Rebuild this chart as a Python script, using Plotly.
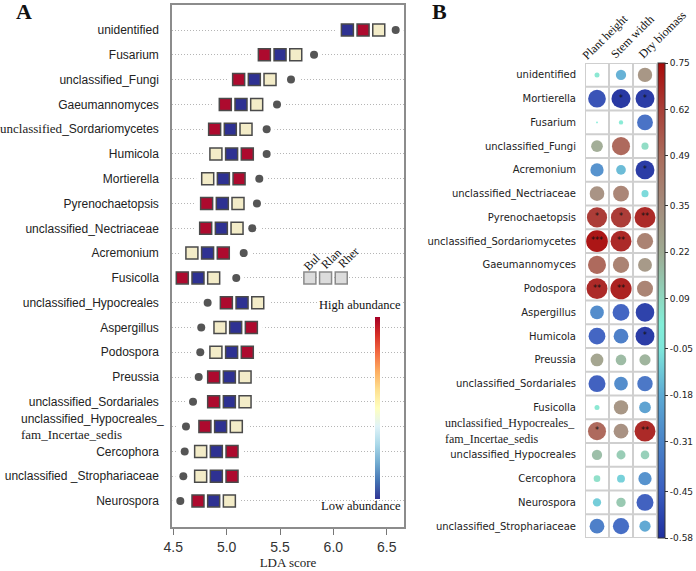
import numpy as np
import plotly.graph_objects as go

# ---------------- Panel A data (LEfSe) ----------------
taxa_A = ["unidentified", "Fusarium", "unclassified_Fungi", "Gaeumannomyces",
          "unclassified_Sordariomycetes", "Humicola", "Mortierella", "Pyrenochaetopsis",
          "unclassified_Nectriaceae", "Acremonium", "Fusicolla", "unclassified_Hypocreales",
          "Aspergillus", "Podospora", "Preussia", "unclassified_Sordariales",
          "unclassified_Hypocreales_fam_Incertae_sedis", "Cercophora",
          "unclassified_Strophariaceae", "Neurospora"]
lda_score = [6.584, 5.819, 5.603, 5.472, 5.375, 5.375, 5.306, 5.284, 5.240, 5.160,
             5.090, 4.822, 4.762, 4.753, 4.738, 4.685, 4.619, 4.607, 4.594, 4.566]
heat_start = [6.069, 5.291, 5.050, 4.925, 4.825, 4.837, 4.760, 4.750, 4.741, 4.612,
              4.522, 4.935, 4.875, 4.837, 4.816, 4.816, 4.734, 4.694, 4.694, 4.669]
groups = ["Bul", "Rlan", "Rher"]
# relative abundance rank per group: 1 = low, 2 = mid, 3 = high
abund_Bul = [1, 3, 3, 3, 3, 2, 2, 3, 3, 2, 3, 3, 2, 2, 3, 3, 3, 2, 2, 3]
abund_Rlan = [3, 1, 1, 1, 1, 1, 1, 1, 1, 1, 1, 1, 1, 1, 1, 1, 1, 1, 1, 1]
abund_Rher = [2, 2, 2, 2, 2, 3, 3, 2, 2, 3, 2, 2, 3, 3, 2, 2, 2, 3, 3, 2]
lda_ticks = [4.5, 5.0, 5.5, 6.0, 6.5]

# ---------------- Panel B data (correlations) ----------------
taxa_B = ["unidentified", "Mortierella", "Fusarium", "unclassified_Fungi", "Acremonium",
          "unclassified_Nectriaceae", "Pyrenochaetopsis", "unclassified_Sordariomycetes",
          "Gaeumannomyces", "Podospora", "Aspergillus", "Humicola", "Preussia",
          "unclassified_Sordariales", "Fusicolla",
          "unclassified_Hypocreales_fam_Incertae_sedis", "unclassified_Hypocreales",
          "Cercophora", "Neurospora", "unclassified_Strophariaceae"]
traits = ["Plant height", "Stem width", "Dry biomass"]
r_plant_height = [0.04, -0.50, 0.005, 0.22, -0.28, 0.34, 0.65, 0.75, 0.52, 0.70,
                  -0.30, -0.45, 0.26, -0.46, 0.04, 0.52, 0.17, 0.07, -0.11, -0.35]
r_stem_width = [-0.17, -0.58, 0.03, 0.52, -0.15, 0.40, 0.65, 0.70, 0.42, 0.72,
                -0.45, -0.35, 0.18, -0.30, 0.33, 0.35, 0.13, -0.10, 0.14, -0.42]
r_dry_biomass = [0.33, -0.57, -0.40, 0.08, -0.57, -0.08, 0.70, 0.42, 0.31, 0.41,
                 -0.55, -0.57, 0.20, -0.38, -0.22, 0.70, 0.12, -0.28, -0.46, -0.20]
sig_plant_height = ["", "", "", "", "", "", "*", "***", "", "**",
                    "", "", "", "", "", "*", "", "", "", ""]
sig_stem_width = ["", "*", "", "", "", "", "*", "**", "", "**",
                  "", "", "", "", "", "", "", "", "", ""]
sig_dry_biomass = ["", "*", "", "", "*", "", "**", "", "", "",
                   "", "*", "", "", "", "**", "", "", "", ""]
cb_B_ticks = [0.75, 0.62, 0.49, 0.35, 0.22, 0.09, -0.05, -0.18, -0.31, -0.45, -0.58]

# ---------------- geometry helpers ----------------
W, H = 696, 571
def fx(p):
    return p / W
def fy(p):
    return 1 - p / H

SANS = "Liberation Sans, Arial, sans-serif"
SERIF = "Liberation Serif, Times New Roman, serif"
DEJAVU = "DejaVu Sans, sans-serif"

box_w = 0.125     # width of one heat box (LDA units)
pitch = 0.147     # spacing between heat boxes (LDA units)

box_scale = [[0, "#2E3192"], [0.5, "#F3ECC8"], [1, "#AD0A2E"]]
corr_scale = [[0.0, "#1E2E9E"], [0.098, "#3A5EC0"], [0.203, "#4A84C8"], [0.301, "#5CAAD4"],
              [0.398, "#7EE6DA"], [0.45, "#82EED8"], [0.504, "#8ED8C0"], [0.602, "#9EAA92"],
              [0.699, "#A48C7C"], [0.804, "#AA6C5C"], [0.902, "#A84038"], [1.0, "#A80A0A"]]

fig = go.Figure()
rows_A = list(range(len(taxa_A)))

# white gaps in the dotted guide lines around boxes and dots
gx, gy = [], []
for i in rows_A:
    s = heat_start[i]
    e = s + 2 * pitch + box_w
    d = lda_score[i]
    gx += [min(s - 0.045, d - 0.075), max(e + 0.045, d + 0.075), None]
    gy += [i, i, None]
fig.add_trace(go.Scatter(x=gx, y=gy, mode="lines", line=dict(color="white", width=11),
                         hoverinfo="skip", showlegend=False, xaxis="x", yaxis="y"))

# heat boxes
for k, (g, lev) in enumerate(zip(groups, [abund_Bul, abund_Rlan, abund_Rher])):
    fig.add_trace(go.Scatter(
        x=[heat_start[i] + box_w / 2 + k * pitch for i in rows_A], y=rows_A,
        mode="markers", name=g, showlegend=False, xaxis="x", yaxis="y",
        marker=dict(symbol="square", size=12, color=lev, colorscale=box_scale,
                    cmin=1, cmax=3, line=dict(color="#4a4a4a", width=1.5))))

# LDA dots
fig.add_trace(go.Scatter(x=lda_score, y=rows_A, mode="markers", showlegend=False,
                         xaxis="x", yaxis="y",
                         marker=dict(symbol="circle", size=8, color="#555555")))

# group key squares
leg_x0 = 5.78
fig.add_trace(go.Scatter(x=[leg_x0 + k * pitch for k in range(3)], y=[10, 10, 10],
                         mode="markers", showlegend=False, xaxis="x", yaxis="y",
                         marker=dict(symbol="square", size=12, color="#DCDCDC",
                                     line=dict(color="#8a8a8a", width=1.5))))

# abundance colorbar (panel A)
fig.add_trace(go.Scatter(x=[None, None], y=[None, None], mode="markers", showlegend=False,
                         xaxis="x", yaxis="y",
                         marker=dict(color=[0, 1], cmin=0, cmax=1, colorscale="RdYlBu_r",
                                     showscale=True,
                                     colorbar=dict(thickness=5, lenmode="pixels", len=182,
                                                   x=fx(374.5), xanchor="left", xpad=0,
                                                   y=fy(408), yanchor="middle", ypad=0,
                                                   showticklabels=False, ticks="",
                                                   outlinewidth=0))))

# ---------------- Panel B traces ----------------
rows_B = list(range(len(taxa_B)))
cx, cy, cv, cs = [], [], [], []
for j, (vals, sig) in enumerate(zip([r_plant_height, r_stem_width, r_dry_biomass],
                                    [sig_plant_height, sig_stem_width, sig_dry_biomass])):
    for i in rows_B:
        cx.append(j); cy.append(i); cv.append(vals[i]); cs.append(sig[i])
sizes = [25 * np.sqrt(abs(v)) for v in cv]
fig.add_trace(go.Scatter(
    x=cx, y=cy, mode="markers", showlegend=False, xaxis="x2", yaxis="y2",
    marker=dict(size=sizes, color=cv, colorscale=corr_scale, cmin=-0.58, cmax=0.75,
                line=dict(width=0), opacity=0.95, showscale=True,
                colorbar=dict(thickness=7, lenmode="pixels", len=475, x=fx(658),
                              xanchor="left", xpad=0, y=fy(300.5), yanchor="middle", ypad=0,
                              tickvals=cb_B_ticks, ticktext=[f"{t:.2f}" for t in cb_B_ticks],
                              ticks="outside", ticklen=3, tickcolor="#333", tickwidth=1,
                              tickfont=dict(family=DEJAVU, size=9, color="#222"),
                              outlinewidth=1, outlinecolor="#333"))))
fig.add_trace(go.Scatter(x=cx, y=cy, mode="text", text=cs, showlegend=False,
                         xaxis="x2", yaxis="y2", textposition="middle center",
                         textfont=dict(size=8, color="#111", family=DEJAVU)))

# ---------------- labels ----------------
def label_A(t):
    if t == "unclassified_Sordariomycetes":
        return ("<span style='font-family:Liberation Serif;font-size:13px'>unclassified</span>"
                "_Sordariomycetes")
    if t == "unclassified_Strophariaceae":
        return "unclassified _Strophariaceae"
    if t == "unclassified_Hypocreales_fam_Incertae_sedis":
        return ""
    return t

def label_B(t):
    if t == "unclassified_Hypocreales_fam_Incertae_sedis":
        return ""
    return t

shapes = []
# white areas behind the key and the abundance colorbar
for (x0, x1, y0, y1) in [(300, 352, 244, 286), (352, 374, 246, 260), (363, 398, 292, 515)]:
    shapes.append(dict(type="rect", xref="paper", yref="paper", x0=fx(x0), x1=fx(x1),
                       y0=fy(y1), y1=fy(y0), fillcolor="white", line=dict(width=0),
                       layer="between"))
# cell grid panel B
for k in range(len(traits) + 1):
    shapes.append(dict(type="line", xref="x2", yref="y2", x0=k - 0.5, x1=k - 0.5,
                       y0=-0.5, y1=len(taxa_B) - 0.5, line=dict(color="#cfcfcf", width=2),
                       layer="below"))
for k in range(len(taxa_B) + 1):
    shapes.append(dict(type="line", xref="x2", yref="y2", x0=-0.5, x1=len(traits) - 0.5,
                       y0=k - 0.5, y1=k - 0.5, line=dict(color="#cfcfcf", width=2),
                       layer="below"))

def pa(text, px_, py_, font, **kw):
    d = dict(text=text, xref="paper", yref="paper", x=fx(px_), y=fy(py_),
             xanchor="center", yanchor="middle", showarrow=False, font=font)
    d.update(kw)
    return d

ann = []
ann.append(pa("<b>A</b>", 23.5, 12, dict(family=SERIF, size=22, color="#111")))
ann.append(pa("<b>B</b>", 439.5, 11.5, dict(family=SERIF, size=22, color="#111")))
i_fam = taxa_A.index("unclassified_Hypocreales_fam_Incertae_sedis")
ann.append(dict(text="unclassified_Hypocreales_<br><span style='font-family:Liberation Serif;"
                     "font-size:13px'>fam_Incertae_sedis</span>",
                xref="paper", yref="y", x=fx(166), y=i_fam, xanchor="right", yanchor="middle",
                align="left", showarrow=False, font=dict(family=SANS, size=12, color="#222")))
i_famB = taxa_B.index("unclassified_Hypocreales_fam_Incertae_sedis")
ann.append(dict(text="unclassified_Hypocreales_<br>fam_Incertae_sedis",
                xref="paper", yref="y2", x=fx(577), y=i_famB, xanchor="right",
                yanchor="middle", align="left", showarrow=False,
                font=dict(family=SERIF, size=12, color="#222")))
ann.append(pa("High abundance", 360, 305, dict(family=SERIF, size=12.5, color="#111"),
              bgcolor="white"))
ann.append(pa("Low abundance", 360.5, 505.5, dict(family=SERIF, size=12.5, color="#111")))
for g, (px_, py_) in zip(groups, [(312, 262), (331, 259), (348, 258)]):
    ann.append(pa(g, px_, py_, dict(family=SERIF, size=12, color="#111"), textangle=-45))
for t, (px_, py_) in zip(traits, [(605, 37), (632, 37), (662, 35)]):
    ann.append(pa(t, px_, py_, dict(family=SERIF, size=12, color="#111"), textangle=-45))

fig.update_layout(
    width=W, height=H, autosize=False, margin=dict(l=0, r=0, t=0, b=0, autoexpand=False),
    paper_bgcolor="white", plot_bgcolor="white", showlegend=False,
    shapes=shapes, annotations=ann,
    xaxis=dict(domain=[fx(172), fx(404)], range=[4.488, 6.662], tickvals=lda_ticks,
               ticktext=[f"{t:.1f}" for t in lda_ticks], ticks="outside", ticklen=6,
               tickcolor="#777", showgrid=False, zeroline=False, automargin=False,
               showline=True, mirror=True, linecolor="#8c8c8c", linewidth=1.5,
               tickfont=dict(family="Liberation Sans Narrow, Arial Narrow, sans-serif",
                             size=14, color="#333"),
               title=dict(text="LDA score", standoff=4,
                          font=dict(family=SERIF, size=13, color="#222"))),
    yaxis=dict(domain=[fy(527), fy(5)], range=[20.05, -1.01], tickvals=rows_A,
               ticktext=[label_A(t) for t in taxa_A], ticks="", ticklabelstandoff=9,
               showgrid=True, gridcolor="#b5b5b5", griddash="1px,2px", gridwidth=1,
               zeroline=False, showline=True, mirror=True, linecolor="#8c8c8c",
               linewidth=1.5, automargin=False,
               tickfont=dict(family=SANS, size=12, color="#222")),
    xaxis2=dict(domain=[fx(585), fx(657)], range=[-0.5, 2.5], showgrid=False,
                zeroline=False, showticklabels=False, ticks="", anchor="y2",
                automargin=False),
    yaxis2=dict(domain=[fy(538), fy(63)], range=[19.5, -0.5], tickvals=rows_B,
                ticktext=[label_B(t) for t in taxa_B], ticks="", ticklabelstandoff=8,
                showgrid=False, zeroline=False, anchor="x2", automargin=False,
                tickfont=dict(family=DEJAVU, size=10, color="#222")),
)

fig.write_html("out.html", config={"displayModeBar": False},
               post_script="document.body.style.margin='0px';")
